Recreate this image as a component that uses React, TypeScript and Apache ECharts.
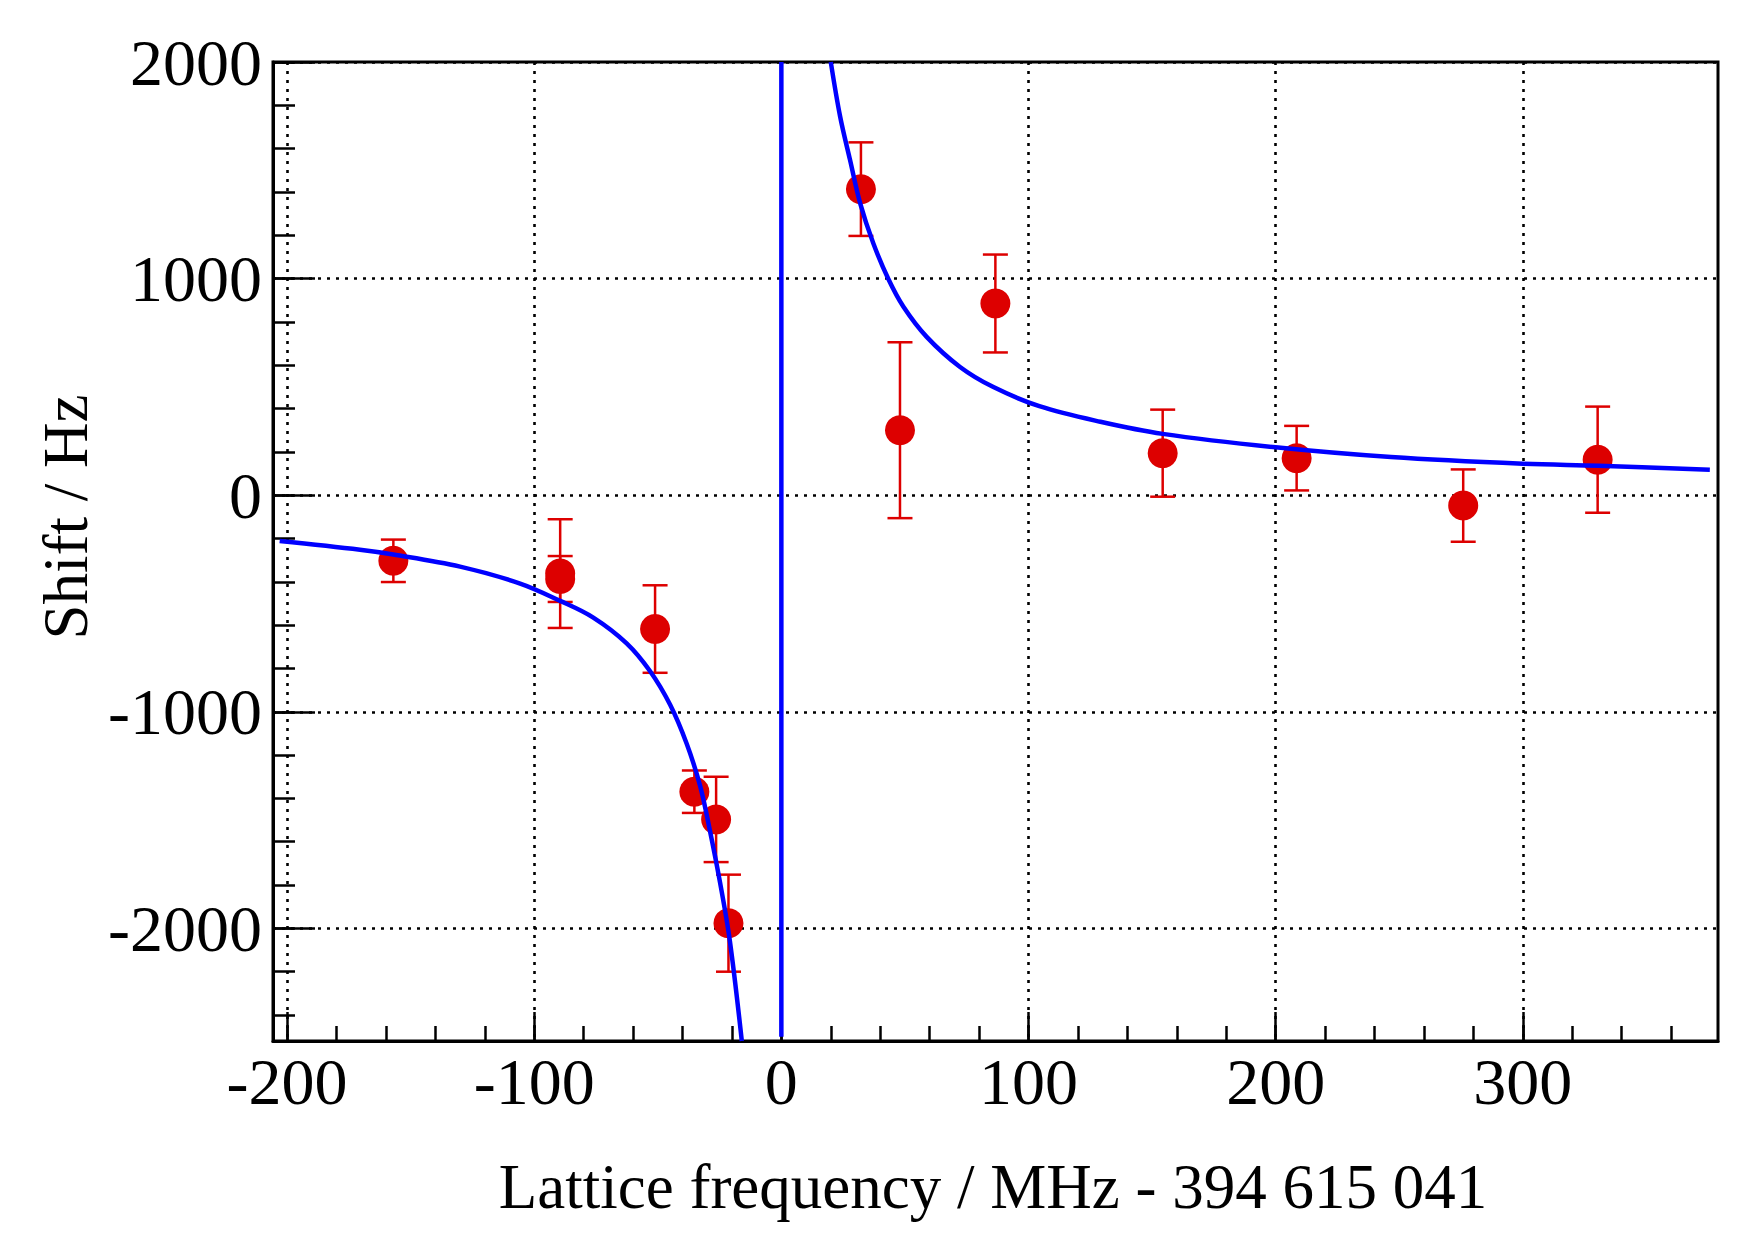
import React, { useEffect, useRef } from "react";
import * as echarts from "echarts";

// ---- data ----
const pointX = [-157, -89.5, -89.5, -51.1, -35.2, -26.4, -21.4, 32.2, 48.0, 86.6, 154.3, 208.5, 275.9, 330.3];
const pointY = [-303, -362, -387, -618, -1369, -1497, -1976, 1413, 300, 885, 194, 171, -48, 164];
const pointErr = [98, 251, 106, 202, 98, 197, 224, 216, 406, 226, 201, 149, 167, 245];

const fitLeftX = [-203, -170.5, -157, -130, -105.7, -89.5, -76.1, -62.6, -53.1, -45.0, -38.3, -32.9, -28.9, -24.8, -20.8, -16.0];
const fitLeftY = [-212, -252, -274, -330, -408, -488, -565, -684, -813, -968, -1148, -1341, -1549, -1789, -2061, -2520];

const fitRightX = [20.0, 23.8, 27.8, 31.9, 37.2, 43.3, 49.4, 58.8, 72.3, 85.8, 104.4, 129.1, 154.3, 200, 246.7, 300, 330.7, 375.7];
const fitRightY = [2000, 1747, 1547, 1347, 1163, 998, 870, 731, 592, 499, 411, 339, 283, 221, 176, 145, 136, 118];

const poleX = [0, 0];
const poleY = [-2500, 2000];

const xMajor = [-200, -100, 0, 100, 200, 300];
const xMinor = [-200, -180, -160, -140, -120, -100, -80, -60, -40, -20, 0, 20, 40, 60, 80, 100, 120, 140, 160, 180, 200, 220, 240, 260, 280, 300, 320, 340, 360];
const yMajor = [-2000, -1000, 0, 1000, 2000];
const yMinor = [-2400, -2200, -2000, -1800, -1600, -1400, -1200, -1000, -800, -600, -400, -200, 0, 200, 400, 600, 800, 1000, 1200, 1400, 1600, 1800, 2000];

const xMin = -205.7;
const xMax = 379;
const yMin = -2520;
const yMax = 2000;

const xTitle = "Lattice frequency / MHz - 394 615 041";
const yTitle = "Shift / Hz";

const RED = "#dd0000";
const BLUE = "#0000ff";
const FONT = "Liberation Serif";

export default function App() {
  const ref = useRef<HTMLDivElement>(null);

  useEffect(() => {
    if (!ref.current) return;
    const chart = echarts.init(ref.current, null, { renderer: "svg" });

    const pts = pointX.map((x, i) => [x, pointY[i]]);
    const errs = pointX.map((x, i) => [x, pointY[i], pointErr[i]]);
    const left = fitLeftX.map((x, i) => [x, fitLeftY[i]]);
    const right = fitRightX.map((x, i) => [x, fitRightY[i]]);
    const pole = poleX.map((x, i) => [x, poleY[i]]);

    const labelStyle = {
      fontFamily: FONT,
      fontSize: 66,
      color: "#000",
      formatter: (v: number) => String(v),
    };
    const gridLine = { show: true, lineStyle: { color: "#000", width: 2.6, type: [3, 6] } };

    const option: any = {
      animation: false,
      backgroundColor: "#fff",
      grid: {
        left: 273,
        right: 33,
        top: 62,
        bottom: 193,
        show: true,
        borderColor: "#000",
        borderWidth: 3,
        backgroundColor: "transparent",
      },
      xAxis: [
        {
          type: "value",
          min: xMin,
          max: xMax,
          position: "bottom",
          axisLine: { show: true, onZero: false, lineStyle: { color: "#000", width: 3 } },
          axisTick: { show: true, inside: true, length: 29, customValues: xMajor, lineStyle: { color: "#000", width: 2.5 } },
          axisLabel: { show: true, customValues: xMajor, margin: 7, ...labelStyle },
          splitLine: gridLine,
        },
        {
          type: "value",
          min: xMin,
          max: xMax,
          position: "bottom",
          axisLine: { show: false, onZero: false },
          axisTick: { show: true, inside: true, length: 15, customValues: xMinor, lineStyle: { color: "#000", width: 2.5 } },
          axisLabel: { show: false },
          splitLine: { show: false },
        },
      ],
      yAxis: [
        {
          type: "value",
          min: yMin,
          max: yMax,
          position: "left",
          axisLine: { show: true, onZero: false, lineStyle: { color: "#000", width: 3 } },
          axisTick: { show: true, inside: true, length: 42, customValues: yMajor, lineStyle: { color: "#000", width: 2.5 } },
          axisLabel: { show: true, customValues: yMajor, margin: 11, ...labelStyle },
          splitLine: gridLine,
        },
        {
          type: "value",
          min: yMin,
          max: yMax,
          position: "left",
          axisLine: { show: false, onZero: false },
          axisTick: { show: true, inside: true, length: 22, customValues: yMinor, lineStyle: { color: "#000", width: 2.5 } },
          axisLabel: { show: false },
          splitLine: { show: false },
        },
      ],
      graphic: [
        {
          type: "text",
          x: 993,
          y: 1187,
          style: { text: xTitle, fontFamily: FONT, fontSize: 63, fill: "#000", textAlign: "center", textVerticalAlign: "middle" },
        },
        {
          type: "text",
          x: 66,
          y: 517,
          rotation: Math.PI / 2,
          style: { text: yTitle, fontFamily: FONT, fontSize: 63, fill: "#000", textAlign: "center", textVerticalAlign: "middle" },
        },
      ],
      series: [
        {
          type: "custom",
          name: "errors",
          xAxisIndex: 0,
          yAxisIndex: 0,
          z: 2,
          clip: true,
          data: errs,
          dimensions: ["x", "y", "e"],
          encode: { x: 0, y: 1 },
          renderItem: (params: any, api: any) => {
            const x = api.value(0);
            const y = api.value(1);
            const e = api.value(2);
            const top = api.coord([x, y + e]);
            const bot = api.coord([x, y - e]);
            const cap = 12.5;
            const style = { stroke: RED, lineWidth: 2.5 };
            return {
              type: "group",
              children: [
                { type: "line", shape: { x1: top[0], y1: top[1], x2: bot[0], y2: bot[1] }, style },
                { type: "line", shape: { x1: top[0] - cap, y1: top[1], x2: top[0] + cap, y2: top[1] }, style },
                { type: "line", shape: { x1: bot[0] - cap, y1: bot[1], x2: bot[0] + cap, y2: bot[1] }, style },
              ],
            };
          },
        },
        {
          type: "scatter",
          name: "data",
          xAxisIndex: 0,
          yAxisIndex: 0,
          z: 3,
          symbol: "circle",
          symbolSize: 30,
          itemStyle: { color: RED, opacity: 1 },
          data: pts,
        },
        {
          type: "line",
          name: "fitLeft",
          xAxisIndex: 0,
          yAxisIndex: 0,
          z: 4,
          smooth: 0.35,
          showSymbol: false,
          symbol: "none",
          clip: true,
          lineStyle: { color: BLUE, width: 4.5 },
          data: left,
        },
        {
          type: "line",
          name: "pole",
          xAxisIndex: 0,
          yAxisIndex: 0,
          z: 4,
          showSymbol: false,
          symbol: "none",
          clip: true,
          lineStyle: { color: BLUE, width: 4.5 },
          data: pole,
        },
        {
          type: "line",
          name: "fitRight",
          xAxisIndex: 0,
          yAxisIndex: 0,
          z: 4,
          smooth: 0.35,
          showSymbol: false,
          symbol: "none",
          clip: true,
          lineStyle: { color: BLUE, width: 4.5 },
          data: right,
        },
      ],
    };

    chart.setOption(option);
    return () => {
      chart.dispose();
    };
  }, []);

  return (
    <div
      ref={ref}
      style={{ position: "absolute", left: 0, top: 0, width: 1751, height: 1234, background: "#fff" }}
    />
  );
}
